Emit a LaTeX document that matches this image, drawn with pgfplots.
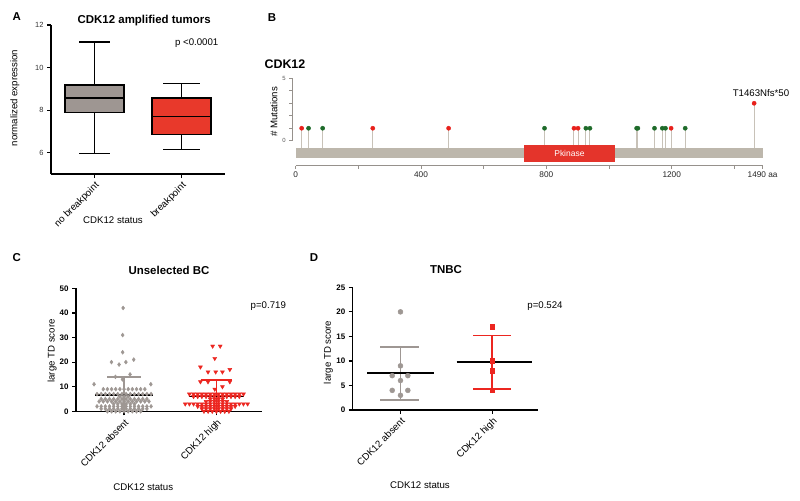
\documentclass[border=0pt]{standalone}
\usepackage{pgfplots}
\pgfplotsset{compat=1.18}
\usepgfplotslibrary{statistics}
\usepackage{fontspec}
\setmainfont{Liberation Sans}
\definecolor{boxgray}{RGB}{158,150,146}
\definecolor{boxred}{RGB}{232,57,43}
\definecolor{ptgray}{RGB}{158,151,147}
\definecolor{ptred}{RGB}{236,38,32}
\definecolor{protgray}{RGB}{189,183,172}
\definecolor{kinred}{RGB}{228,52,43}
\definecolor{stemgray}{RGB}{200,194,184}
\definecolor{mutgreen}{RGB}{30,107,42}
\definecolor{mutred}{RGB}{232,32,27}
\definecolor{axgray}{RGB}{150,145,140}
\newcommand{\fT}{\fontsize{9.7}{11}\selectfont}
\newcommand{\fH}{\bfseries\fontsize{11.5}{13}\selectfont}
\pgfplotsset{
  panel/.style={
    scale only axis, anchor=south west, clip=false,
    axis x line*=bottom, axis y line*=left,
    axis line style={black, line width=1.5bp, -},
    tick style={black, line width=1.2bp},
    tick align=outside, major tick length=4bp,
    /pgf/number format/assume math mode=true,
    xtick={1,2},
    xticklabel style={rotate=45, anchor=north east, font=\fT, inner sep=2bp},
  }
}
\begin{document}
\begin{tikzpicture}
\useasboundingbox (0,0) rectangle (800bp,-501bp);
\fill[white] (0,0) rectangle (800bp,-501bp);

% ---------------- Panel A ----------------
\begin{axis}[panel,
  at={(51bp,-174bp)}, width=174bp, height=149bp,
  xmin=0.5, xmax=2.5, ymin=5, ymax=12,
  xticklabels={no breakpoint, breakpoint},
  ytick={6,8,10,12},
  yticklabel style={font=\fontsize{7.5}{9}\selectfont, text=black!80},
  ylabel={normalized expression},
  ylabel style={at={(axis description cs:-0.207,0.51)}, anchor=center, font=\fT},
]
\addplot[boxplot prepared={draw direction=y, draw position=1, median=8.56, upper quartile=9.18,
  lower quartile=7.89, upper whisker=11.21, lower whisker=5.97,
  box extend=0.68, whisker extend=0.35},
  draw=black, fill=boxgray, line width=1.5bp] coordinates {};
\addplot[boxplot prepared={draw direction=y, draw position=2, median=7.69, upper quartile=8.56,
  lower quartile=6.85, upper whisker=9.26, lower whisker=6.16,
  box extend=0.68, whisker extend=0.42},
  draw=black, fill=boxred, line width=1.5bp] coordinates {};
\end{axis}
\node[font=\fH] at (16.7bp,-16.7bp) {A};
\node[font=\fH] at (144.2bp,-21bp) {CDK12 amplified tumors};
\node[font=\fT] at (196.7bp,-43.3bp) {p <0.0001};
\node[font=\fT] at (113bp,-220bp) {CDK12 status};

% ---------------- Panel B ----------------
\begin{axis}[
  at={(295.7bp,-165.7bp)}, anchor=south west,
  scale only axis, width=466.9bp, height=87.4bp, clip=false,
  xmin=0, xmax=1490, ymin=-2, ymax=5,
  axis x line*=bottom, axis y line=none,
  axis line style={axgray, line width=0.7bp, -},
  tick style={axgray, line width=0.7bp}, tick align=outside, major tick length=3bp,
  xtick={0,200,400,600,800,1000,1200,1400,1490},
  xticklabels={0,,400,,800,,1200,,1490 aa},
  xticklabel style={font=\fontsize{8.3}{9}\selectfont, text=black!85},
  /pgf/number format/assume math mode=true,
]
\addplot[only marks, mark=*, mark size=2.1bp, mark options={draw=mutgreen, fill=mutgreen},
  error bars/.cd, y dir=minus, y explicit, error mark=none,
  error bar style={stemgray, line width=1bp}]
  coordinates {(41,1) -= (0,1.61) (86,1) -= (0,1.61) (794,1) -= (0,1.61)
    (926,1) -= (0,1.61) (939,1) -= (0,1.61) (1088,1) -= (0,1.61)
    (1092,1) -= (0,1.61) (1145,1) -= (0,1.61) (1170,1) -= (0,1.61)
    (1180,1) -= (0,1.61) (1243,1) -= (0,1.61)};
\addplot[only marks, mark=*, mark size=2.1bp, mark options={draw=mutred, fill=mutred},
  error bars/.cd, y dir=minus, y explicit, error mark=none,
  error bar style={stemgray, line width=1bp}]
  coordinates {(19,1) -= (0,1.61) (246,1) -= (0,1.61) (488,1) -= (0,1.61)
    (888,1) -= (0,1.61) (901,1) -= (0,1.61) (1198,1) -= (0,1.61)
    (1463,3) -= (0,3.61)};
\addplot[fill=protgray, draw=none] coordinates {(0,-0.61) (1490,-0.61) (1490,-1.41) (0,-1.41)};
\addplot[fill=kinred, draw=none] coordinates {(727,-0.34) (1020,-0.34) (1020,-1.68) (727,-1.68)};
\node[text=white, font=\fontsize{8.5}{9}\selectfont] at (axis cs:873.5,-1.01) {Pkinase};
\node[font=\fT] at (axis cs:1485,3.8) {T1463Nfs*50};
\end{axis}
\begin{axis}[
  at={(292.3bp,-140.7bp)}, anchor=south west,
  scale only axis, width=1bp, height=62.4bp,
  xmin=0, xmax=1, ymin=0, ymax=5,
  axis y line*=left, axis x line=none,
  axis line style={axgray, line width=0.7bp, -},
  tick style={axgray, line width=0.7bp}, tick align=outside, major tick length=3bp,
  ytick={0,1,2,3,4,5}, yticklabels={0,,,,,5},
  yticklabel style={font=\fontsize{6}{7}\selectfont, text=black!65},
  /pgf/number format/assume math mode=true,
]
\end{axis}
\node[font=\fH] at (272bp,-17.5bp) {B};
\node[font=\bfseries\fontsize{12.5}{14}\selectfont, anchor=west] at (261bp,-64bp) {CDK12};
\node[font=\fT, rotate=90] at (274bp,-112bp) {\# Mutations};

% ---------------- Panel C ----------------
\begin{axis}[panel,
  at={(76bp,-411.3bp)}, width=185.7bp, height=123bp,
  xmin=0.48, xmax=2.49, ymin=0, ymax=50,
  xticklabels={CDK12 absent, CDK12 high},
  ytick={0,10,20,30,40,50},
  yticklabel style={font=\bfseries\fontsize{8}{9}\selectfont},
  ylabel={large TD score},
  ylabel style={at={(axis description cs:-0.129,0.49)}, anchor=center, font=\fT},
]
\addplot[only marks, mark=diamond*, mark size=2bp, mark options={draw=ptgray, fill=ptgray}]
coordinates {
(0.82,0) (0.865,0) (0.91,0) (0.955,0) (1,0) (1.045,0) (1.09,0) (1.135,0) (1.18,0)
(0.7525,1) (0.7975,1) (0.8425,1) (0.8875,1) (0.9325,1) (0.9775,1) (1.0225,1) (1.0675,1) (1.1125,1) (1.1575,1) (1.2025,1) (1.2475,1)
(0.7075,2) (0.7525,2) (0.7975,2) (0.8425,2) (0.8875,2) (0.9325,2) (0.9775,2) (1.0225,2) (1.0675,2) (1.1125,2) (1.1575,2) (1.2025,2) (1.2475,2) (1.2925,2)
(0.8875,3) (0.9325,3) (0.9775,3) (1.0225,3) (1.0675,3) (1.1125,3)
(0.73,4) (0.775,4) (0.82,4) (0.865,4) (0.91,4) (0.955,4) (1,4) (1.045,4) (1.09,4) (1.135,4) (1.18,4) (1.225,4) (1.27,4)
(0.7525,5) (0.7975,5) (0.8425,5) (0.8875,5) (0.9325,5) (0.9775,5) (1.0225,5) (1.0675,5) (1.1125,5) (1.1575,5) (1.2025,5) (1.2475,5)
(0.955,6) (1,6) (1.045,6)
(0.7075,7) (0.7525,7) (0.7975,7) (0.8425,7) (0.8875,7) (0.9325,7) (0.9775,7) (1.0225,7) (1.0675,7) (1.1125,7) (1.1575,7) (1.2025,7) (1.2475,7) (1.2925,7)
(0.775,9) (0.82,9) (0.865,9) (0.91,9) (0.955,9) (1,9) (1.045,9) (1.09,9) (1.135,9) (1.18,9) (1.225,9)
(0.675,11) (1.29,11)
(0.983,13) (0.907,14) (1.065,15) (0.946,19) (0.864,20) (1.02,20) (1.105,21)
(0.985,24) (0.985,31) (0.99,42)
};
\addplot[only marks, mark=triangle*, mark size=2.3bp, mark options={draw=ptred, fill=ptred, rotate=180}]
coordinates {
(1.865,0) (1.91,0) (1.955,0) (2,0) (2.045,0) (2.09,0) (2.135,0)
(1.8425,1) (1.8875,1) (1.9325,1) (1.9775,1) (2.0225,1) (2.0675,1) (2.1125,1) (2.1575,1)
(1.7975,2) (1.8425,2) (1.8875,2) (1.9325,2) (1.9775,2) (2.0225,2) (2.0675,2) (2.1125,2) (2.1575,2) (2.2025,2)
(1.6625,3) (1.7075,3) (1.7525,3) (1.7975,3) (1.8425,3) (1.8875,3) (1.9325,3) (1.9775,3) (2.0225,3) (2.0675,3) (2.1125,3) (2.1575,3) (2.2025,3) (2.2475,3) (2.2925,3) (2.3375,3)
(1.8875,4) (1.9325,4) (1.9775,4) (2.0225,4) (2.0675,4) (2.1125,4)
(1.9325,5) (1.9775,5) (2.0225,5) (2.0675,5)
(1.7525,6) (1.7975,6) (1.8425,6) (1.8875,6) (1.9325,6) (1.9775,6) (2.0225,6) (2.0675,6) (2.1125,6) (2.1575,6) (2.2025,6) (2.2475,6)
(1.7075,7) (1.7525,7) (1.7975,7) (1.8425,7) (1.8875,7) (1.9325,7) (1.9775,7) (2.0225,7) (2.0675,7) (2.1125,7) (2.1575,7) (2.2025,7) (2.2475,7) (2.2925,7)
(1.982,9) (2.065,10) (1.827,12) (1.909,12) (2.145,12)
(1.909,16) (1.992,16) (2.065,16) (2.145,17) (1.827,18)
(1.982,21.5) (1.959,26.5) (2.041,26.5)
};
\addplot[ptgray, line width=1.3bp] coordinates {(1,0) (1,14)};
\addplot[ptgray, line width=1.3bp] coordinates {(0.82,14) (1.18,14)};
\addplot[ptred, line width=1.3bp] coordinates {(2,0) (2,12.7)};
\addplot[ptred, line width=1.3bp] coordinates {(1.83,12.7) (2.17,12.7)};
\addplot[black, line width=1.5bp] coordinates {(0.685,6.6) (1.315,6.6)};
\addplot[black, line width=1.5bp] coordinates {(1.7,6.1) (2.3,6.1)};
\end{axis}
\node[font=\fH] at (16.7bp,-258bp) {C};
\node[font=\fH] at (169bp,-270bp) {Unselected BC};
\node[font=\fT] at (268.3bp,-306bp) {p=0.719};
\node[font=\fT] at (143.3bp,-487.3bp) {CDK12 status};

% ---------------- Panel D ----------------
\begin{axis}[panel,
  at={(352.7bp,-410bp)}, width=185.6bp, height=122.7bp,
  xmin=0.48, xmax=2.5, ymin=0, ymax=25,
  xticklabels={CDK12 absent, CDK12 high},
  ytick={0,5,10,15,20,25},
  yticklabel style={font=\bfseries\fontsize{8}{9}\selectfont},
  ylabel={large TD score},
  ylabel style={at={(axis description cs:-0.131,0.47)}, anchor=center, font=\fT},
]
\addplot[only marks, mark=*, mark size=2.5bp, mark options={draw=ptgray, fill=ptgray}]
coordinates {(1,20) (1,9) (0.91,7) (1.08,7) (1,6) (0.91,4) (1.08,4) (1,3)};
\addplot[only marks, mark=square*, mark size=2.3bp, mark options={draw=ptred, fill=ptred}]
coordinates {(2,17) (2,10) (2,8) (2,4)};
\addplot[ptgray, line width=1.8bp] coordinates {(1,2.1) (1,12.9)};
\addplot[ptgray, line width=1.8bp] coordinates {(0.78,12.9) (1.2,12.9)};
\addplot[ptgray, line width=1.8bp] coordinates {(0.78,2.1) (1.2,2.1)};
\addplot[ptred, line width=1.8bp] coordinates {(2,4.35) (2,15.2)};
\addplot[ptred, line width=1.8bp] coordinates {(1.79,15.2) (2.2,15.2)};
\addplot[ptred, line width=1.8bp] coordinates {(1.79,4.35) (2.2,4.35)};
\addplot[black, line width=1.8bp] coordinates {(0.64,7.5) (1.36,7.5)};
\addplot[black, line width=1.8bp] coordinates {(1.61,9.8) (2.43,9.8)};
\end{axis}
\node[font=\fH] at (314bp,-258bp) {D};
\node[font=\fH] at (446bp,-270bp) {TNBC};
\node[font=\fT] at (545bp,-306bp) {p=0.524};
\node[font=\fT] at (420bp,-485bp) {CDK12 status};
\end{tikzpicture}
\end{document}
